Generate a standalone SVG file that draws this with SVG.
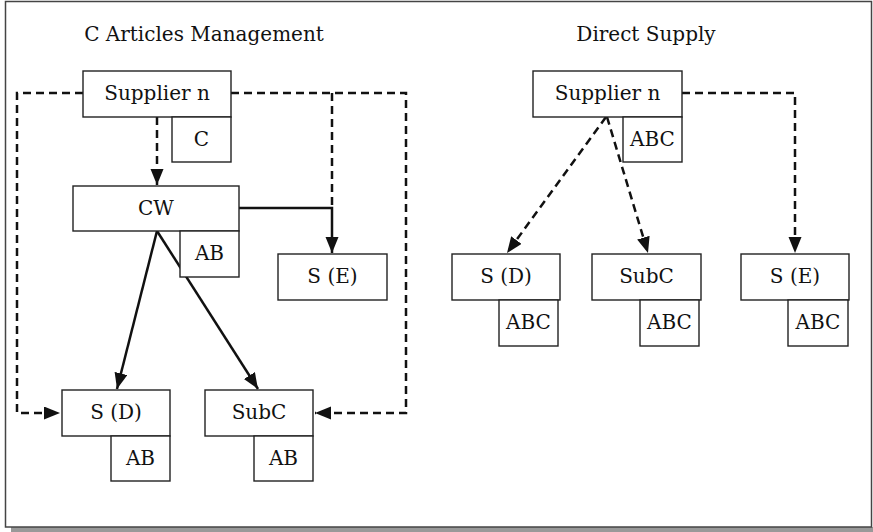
<svg xmlns="http://www.w3.org/2000/svg" width="873" height="532" viewBox="0 0 873 532">
<style>
.box{fill:#fff;stroke:#222;stroke-width:1.4}
.t{font-family:"DejaVu Serif","Liberation Serif",serif;font-size:20px;fill:#111;text-anchor:middle}
.title{font-family:"DejaVu Serif","Liberation Serif",serif;font-size:20px;fill:#111;text-anchor:middle}
.d{fill:none;stroke:#111;stroke-width:2.5;stroke-dasharray:8,5}
.s{fill:none;stroke:#111;stroke-width:2.5}
</style>
<defs>
<marker id="ah" markerUnits="userSpaceOnUse" markerWidth="17" markerHeight="14" refX="16" refY="6.5" orient="auto">
<path d="M0,0 L16,6.5 L0,13 z" fill="#111"/>
</marker>
</defs>
<rect x="11" y="527" width="862" height="5" fill="#999"/>
<rect x="5.5" y="1.5" width="866" height="525.5" fill="#fff" stroke="#444" stroke-width="1.5"/>
<text class="title" x="204" y="41">C Articles Management</text>
<text class="title" x="646" y="41">Direct Supply</text>
<g id="connectors">
<path class="d" d="M83,93 H17 V413 H60" marker-end="url(#ah)"/>
<path class="d" d="M231,93 H406 V413 H315" marker-end="url(#ah)"/>
<path class="d" d="M332,93 V208"/>
<path class="d" d="M157,117 V185" marker-end="url(#ah)"/>
<path class="s" d="M239,208 H332 V253" marker-end="url(#ah)"/>
<path class="s" d="M157,231 L117,389" marker-end="url(#ah)"/>
<path class="s" d="M157,231 L258,389" marker-end="url(#ah)"/>
<path class="d" d="M606,117 L507,253" marker-end="url(#ah)"/>
<path class="d" d="M607,117 L648,253" marker-end="url(#ah)"/>
<path class="d" d="M682,93 H795 V253" marker-end="url(#ah)"/>
</g>
<g id="l-supplier">
<rect class="box" x="83" y="71" width="148" height="46"/>
<text class="t" x="157" y="100">Supplier n</text>
</g>
<g id="l-supplier-c">
<rect class="box" x="172" y="117" width="59" height="45"/>
<text class="t" x="201.5" y="146">C</text>
</g>
<g id="l-cw">
<rect class="box" x="73" y="186" width="166" height="45"/>
<text class="t" x="156" y="215">CW</text>
</g>
<g id="l-cw-ab">
<rect class="box" x="180" y="231" width="59" height="46"/>
<text class="t" x="209.5" y="260">AB</text>
</g>
<g id="l-se">
<rect class="box" x="278" y="254" width="109" height="46"/>
<text class="t" x="332.5" y="283">S (E)</text>
</g>
<g id="l-sd">
<rect class="box" x="62" y="390" width="108" height="46"/>
<text class="t" x="116" y="419">S (D)</text>
</g>
<g id="l-sd-ab">
<rect class="box" x="111" y="436" width="59" height="45"/>
<text class="t" x="140.5" y="465">AB</text>
</g>
<g id="l-subc">
<rect class="box" x="205" y="390" width="108" height="46"/>
<text class="t" x="259" y="419">SubC</text>
</g>
<g id="l-subc-ab">
<rect class="box" x="254" y="436" width="59" height="45"/>
<text class="t" x="283.5" y="465">AB</text>
</g>
<g id="r-supplier">
<rect class="box" x="533" y="71" width="149" height="46"/>
<text class="t" x="607.5" y="100">Supplier n</text>
</g>
<g id="r-supplier-abc">
<rect class="box" x="623" y="117" width="59" height="45"/>
<text class="t" x="652.5" y="146">ABC</text>
</g>
<g id="r-sd">
<rect class="box" x="452" y="254" width="108" height="46"/>
<text class="t" x="506" y="283">S (D)</text>
</g>
<g id="r-sd-abc">
<rect class="box" x="499" y="300" width="59" height="46"/>
<text class="t" x="528.5" y="329">ABC</text>
</g>
<g id="r-subc">
<rect class="box" x="592" y="254" width="109" height="46"/>
<text class="t" x="646.5" y="283">SubC</text>
</g>
<g id="r-subc-abc">
<rect class="box" x="640" y="300" width="59" height="46"/>
<text class="t" x="669.5" y="329">ABC</text>
</g>
<g id="r-se">
<rect class="box" x="741" y="254" width="108" height="46"/>
<text class="t" x="795" y="283">S (E)</text>
</g>
<g id="r-se-abc">
<rect class="box" x="788" y="300" width="60" height="46"/>
<text class="t" x="818" y="329">ABC</text>
</g>
</svg>
